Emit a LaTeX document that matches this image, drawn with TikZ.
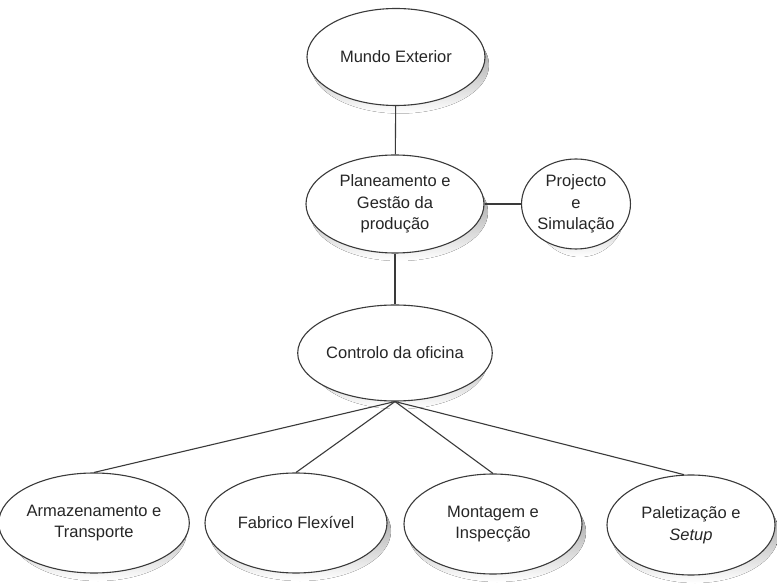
\documentclass[tikz,border=0pt]{standalone}
\usepackage{fontspec}
\setmainfont{Liberation Sans}
\usetikzlibrary{shapes.geometric,backgrounds}
\definecolor{ink}{HTML}{3A3A3A}
\definecolor{shade}{HTML}{D0D0D0}
\tikzset{
  blob/.style={ellipse, draw=ink, line width=1.1pt, fill=white, inner sep=0pt,
    align=center, text=black!85,
    font=\fontsize{16.5}{21.5}\selectfont},
  link/.style={draw=ink, line width=1.1pt}
}
\begin{document}
\begin{tikzpicture}[x=1pt,y=-1pt]
  \useasboundingbox (0,0) rectangle (777,585);

  % upper levels
  \node[blob, minimum width=178pt, minimum height=97pt] (mundo) at (396,57) {Mundo Exterior};
  \node[blob, minimum width=178pt, minimum height=98pt] (plan) at (395,204) {Planeamento e\\Gestão da\\produção};
  \node[blob, minimum width=90pt, minimum height=90pt] (proj) at (576,204) {Projecto\\e\\Simulação};
  \node[blob, minimum width=177pt, minimum height=96pt] (ctrl) at (395,353) {Controlo da oficina};

  % workshop cells
  \node[blob, minimum width=178pt, minimum height=100pt] (arm) at (94,523) {Armazenamento e\\Transporte};
  \node[blob, minimum width=182pt, minimum height=100pt] (fab) at (296,523) {Fabrico Flexível};
  \node[blob, minimum width=178pt, minimum height=100pt] (mont) at (493,524) {Montagem e\\Inspecção};
  \node[blob, minimum width=168pt, minimum height=100pt] (pal) at (691,525) {Paletização e\\\textit{Setup}};

  % connectors
  \draw[link] (mundo) -- (plan);
  \draw[link] (plan) -- (proj);
  \draw[link] (plan) -- (ctrl);
  \coordinate (hub) at (ctrl.south);
  \draw[link] (hub) -- (arm.north);
  \draw[link] (hub) -- (fab.north);
  \draw[link] (hub) -- (mont.north);
  \draw[link] (hub) -- (pal.98);

  % soft shadows below and to the right of each ellipse
  \begin{scope}[on background layer]
    \fill[white] (0,0) rectangle (777,585);
    \foreach \n/\rx/\ry in {mundo/89/48.5, plan/89/49, proj/45/45, ctrl/88.5/48,
                            arm/89/50, fab/91/50, mont/89/50, pal/84/50}
      \fill[shade] ([shift={(4,8)}]\n.center) ellipse [x radius=\rx, y radius=\ry];
  \end{scope}
\end{tikzpicture}
\end{document}
